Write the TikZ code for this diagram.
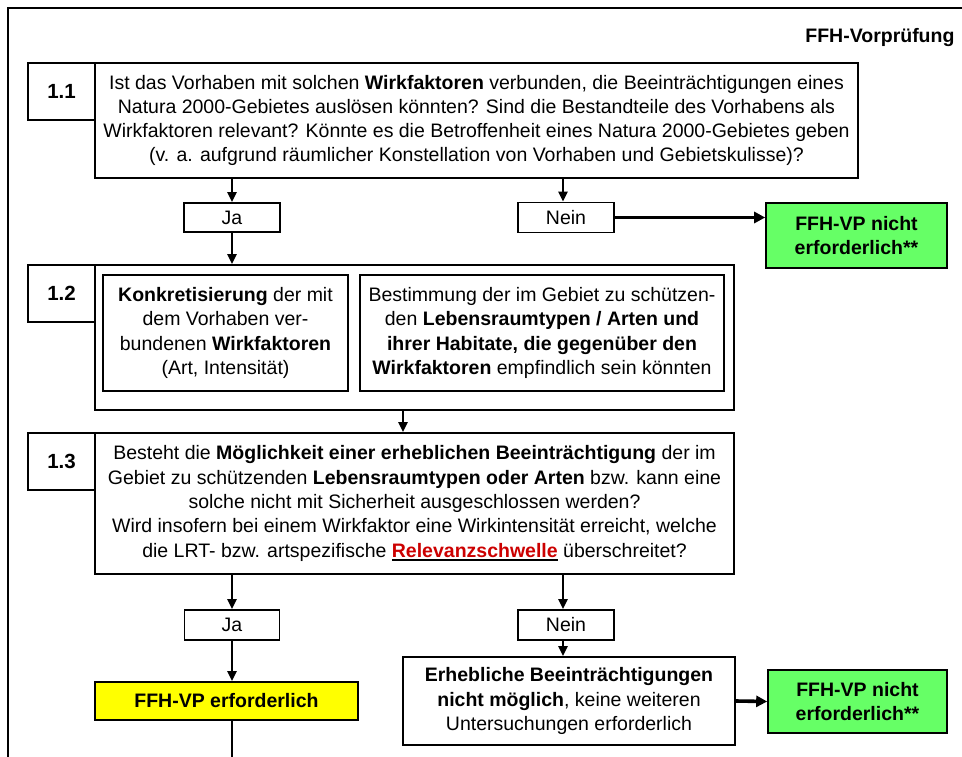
\documentclass[tikz,border=0pt]{standalone}
\usepackage{fontspec}
\setmainfont{Liberation Sans}
\usetikzlibrary{arrows.meta}
\definecolor{vpgreen}{RGB}{102,255,102}
\definecolor{vpyellow}{RGB}{255,255,0}
\definecolor{relred}{RGB}{204,0,0}
\newcommand\redul[1]{\setbox0\hbox{#1}\rlap{\raisebox{-4pt}{\rule{\wd0}{2pt}}}\box0\relax}
\begin{document}
\begin{tikzpicture}[x=1pt,y=-1pt,
  box/.style={draw,line width=1.6pt,inner sep=0pt,align=center,font=\fontsize{19.5}{24.3}\selectfont},
  bbox/.style={box,font=\bfseries\fontsize{19.5}{24.3}\selectfont},
  numbox/.style={box,font=\bfseries\fontsize{20.5}{24}\selectfont},
  arr/.style={line width=2.4pt,-{Triangle[length=10pt,width=9pt]}},
  thickarr/.style={line width=3.6pt,-{Triangle[length=11pt,width=11pt]}},
]
\useasboundingbox (0,0) rectangle (962,756);
\clip (0,0) rectangle (962,756);
\draw[line width=1.6pt] (8,780) -- (8,8) -- (990,8);
\node[anchor=base east,font=\bfseries\fontsize{19.5}{22}\selectfont] (title) at (958,42) {FFH-Vorprüfung};

\coordinate (c2) at (563,0);
\coordinate (c3) at (403,0);
\coordinate (bot) at (232,770);

% 1.1
\node[numbox,minimum width=67pt,minimum height=57pt] (n11) at (61.5,91.5) {1.1};
\node[box,minimum width=763pt,minimum height=115pt] (b11) at (476.5,120.5)
 {Ist das Vorhaben mit solchen \textbf{Wirkfaktoren} verbunden, die Beeinträchtigungen eines\\
  Natura 2000-Gebietes auslösen könnten? Sind die Bestandteile des Vorhabens als\\
  Wirkfaktoren relevant? Könnte es die Betroffenheit eines Natura 2000-Gebietes geben\\
  (v. a. aufgrund räumlicher Konstellation von Vorhaben und Gebietskulisse)?};
\node[box,minimum width=96pt,minimum height=29pt] (ja1) at (232,217.5) {Ja};
\node[box,minimum width=96pt,minimum height=30pt] (nein1) at (566,217.5) {Nein};
\node[bbox,fill=vpgreen,minimum width=181pt,minimum height=65pt] (g1) at (856.5,235.5) {FFH-VP nicht\\ erforderlich**};

% 1.2
\node[box,minimum width=639pt,minimum height=145pt] (b12) at (414.5,337.5) {};
\node[numbox,minimum width=67pt,minimum height=57pt] (n12) at (61.5,293.5) {1.2};
\node[box,minimum width=245pt,minimum height=116pt] (b12a) at (225.5,333)
 {\textbf{Konkretisierung} der mit\\ dem Vorhaben ver-\\ bundenen \textbf{Wirkfaktoren}\\ (Art, Intensität)};
\node[box,minimum width=364pt,minimum height=116pt] (b12b) at (542,333)
 {Bestimmung der im Gebiet zu schützen-\\ den \textbf{Lebensraumtypen / Arten und}\\ \textbf{ihrer Habitate, die gegenüber den}\\ \textbf{Wirkfaktoren} empfindlich sein könnten};

% 1.3
\node[box,minimum width=639pt,minimum height=141pt] (b13) at (414.5,503.5)
 {Besteht die \textbf{Möglichkeit einer erheblichen Beeinträchtigung} der im\\
  Gebiet zu schützenden \textbf{Lebensraumtypen oder Arten} bzw. kann eine\\
  solche nicht mit Sicherheit ausgeschlossen werden?\\
  Wird insofern bei einem Wirkfaktor eine Wirkintensität erreicht, welche\\
  die LRT- bzw. artspezifische \redul{\textcolor{relred}{\textbf{Relevanzschwelle}}} überschreitet?};
\node[numbox,minimum width=67pt,minimum height=57pt] (n13) at (61.5,461.5) {1.3};
\node[box,minimum width=95pt,minimum height=30pt] (ja2) at (232,625) {Ja};
\node[box,minimum width=96pt,minimum height=30pt] (nein2) at (566,625) {Nein};
\node[bbox,fill=vpyellow,minimum width=263pt,minimum height=38pt] (yel) at (226.5,701) {FFH-VP erforderlich};
\node[box,minimum width=332pt,minimum height=88pt] (white) at (569,701)
 {\textbf{Erhebliche Beeinträchtigungen}\\ \textbf{nicht möglich}, keine weiteren\\ Untersuchungen erforderlich};
\node[bbox,fill=vpgreen,minimum width=179pt,minimum height=63pt] (g2) at (857.5,701.5) {FFH-VP nicht\\ erforderlich**};

% connectors
\draw[arr] (b11.south -| ja1) -- (ja1.north);
\draw[arr] (b11.south -| c2) -- (nein1.north -| c2);
\draw[thickarr] (nein1.east) -- (g1.west |- nein1.east);
\draw[arr] (ja1.south) -- (b12.north -| ja1);
\draw[arr] (b12.south -| c3) -- (b13.north -| c3);
\draw[arr] (b13.south -| ja2) -- (ja2.north);
\draw[arr] (b13.south -| c2) -- (nein2.north -| c2);
\draw[arr] (ja2.south) -- (yel.north -| ja2);
\draw[arr] (nein2.south -| c2) -- (white.north -| c2);
\draw[thickarr] (white.east) -- (g2.west);
\draw[line width=2.4pt] (yel.south -| ja2) -- (bot);
\end{tikzpicture}
\end{document}
